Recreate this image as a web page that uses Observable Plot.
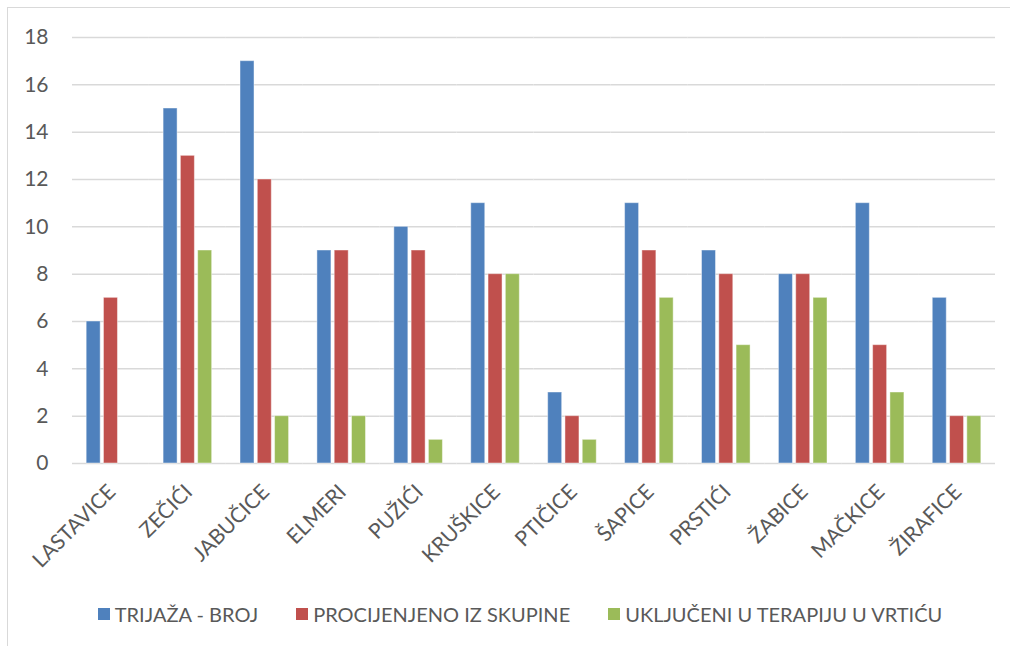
<!DOCTYPE html>
<html>
<head>
<meta charset="utf-8">
<script src="https://cdn.jsdelivr.net/npm/d3@7"></script>
<script src="https://cdn.jsdelivr.net/npm/@observablehq/plot@0.6"></script>
<style>
  html, body { margin: 0; padding: 0; background: #fff; }
  body { width: 1010px; height: 646px; overflow: hidden; position: relative; font-family: Lato, "Open Sans", sans-serif; }
  #frame { position: absolute; left: 7px; top: 7px; width: 1010px; height: 650px; border-left: 1px solid #d9d9d9; border-top: 1px solid #d9d9d9; }
  #chart { position: absolute; left: 0; top: 0; }
  #legend { position: absolute; left: 0; top: 602px; width: 1010px; display: flex; justify-content: center; gap: 38px; font-size: 20px; color: #595959; padding-left: 30px; box-sizing: border-box; }
  #legend .item { display: flex; align-items: center; }
  #legend .sw { width: 12px; height: 12px; margin-right: 5px; }
</style>
</head>
<body>
<div id="frame"></div>
<div id="chart"></div>
<div id="legend"></div>
<script>
const categories = ["LASTAVICE","ZEČIĆI","JABUČICE","ELMERI","PUŽIĆI","KRUŠKICE","PTIČICE","ŠAPICE","PRSTIĆI","ŽABICE","MAČKICE","ŽIRAFICE"];
const seriesNames = ["TRIJAŽA - BROJ","PROCIJENJENO IZ SKUPINE","UKLJUČENI U TERAPIJU U VRTIĆU"];
const seriesColors = ["#4f81bd","#c0504d","#9bbb59"];
const trijaza = [6,15,17,9,10,11,3,11,9,8,11,7];
const procijenjeno = [7,13,12,9,9,8,2,9,8,8,5,2];
const ukljuceni = [null,9,2,2,1,8,1,7,5,7,3,2];
const yTicks = [0,2,4,6,8,10,12,14,16,18];

const seriesValues = [trijaza, procijenjeno, ukljuceni];
const data = [];
categories.forEach((c, i) => {
  seriesNames.forEach((s, j) => {
    const v = seriesValues[j][i];
    if (v != null) data.push({category: c, series: s, value: v});
  });
});

const chart = Plot.plot({
  width: 1010,
  height: 590,
  marginTop: 37,
  marginBottom: 127,
  marginLeft: 72,
  marginRight: 15,
  style: {fontFamily: "Lato, 'Open Sans', sans-serif", color: "#595959", background: "transparent"},
  fx: {domain: categories, padding: 0, round: false, label: null, axis: null},
  x: {domain: seriesNames, paddingInner: 0.19, paddingOuter: 0.82, round: false, axis: null},
  y: {domain: [0, 18], ticks: yTicks, axis: null},
  color: {domain: seriesNames, range: seriesColors},
  marks: [
    Plot.gridY(yTicks, {stroke: "#d9d9d9", strokeOpacity: 1, strokeWidth: 1.5}),
    Plot.barY(data, {fx: "category", x: "series", y: "value", fill: "series", stroke: "#ffffff", strokeOpacity: 0.45, strokeWidth: 1}),
    Plot.axisY(yTicks, {tickSize: 0, tickPadding: 24, fontSize: 21, label: null, fill: "#595959"}),
    Plot.axisFx({anchor: "bottom", tickSize: 0, tickPadding: 25, tickRotate: -45, fontSize: 21, dx: 1, label: null, fill: "#595959"})
  ]
});
document.getElementById("chart").appendChild(chart);

const legend = document.getElementById("legend");
seriesNames.forEach((s, j) => {
  const it = document.createElement("div");
  it.className = "item";
  const sw = document.createElement("span");
  sw.className = "sw";
  sw.style.background = seriesColors[j];
  const t = document.createElement("span");
  t.textContent = s;
  it.appendChild(sw); it.appendChild(t);
  legend.appendChild(it);
});
</script>
</body>
</html>
